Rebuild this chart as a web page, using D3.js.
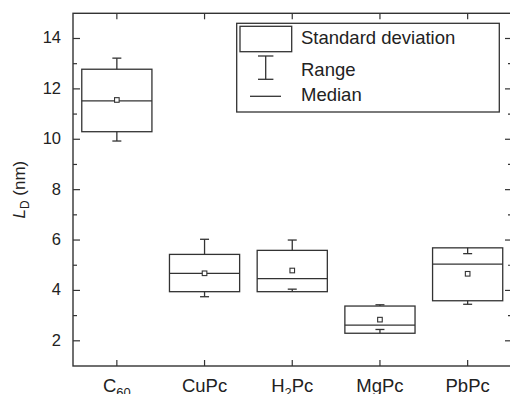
<!DOCTYPE html>
<html>
<head>
<meta charset="utf-8">
<script src="https://cdn.jsdelivr.net/npm/d3@7"></script>
<style>
  body { margin: 0; background: #fff; }
  svg { display: block; font-family: "Liberation Sans", Arial, sans-serif; }
</style>
</head>
<body>
<div id="chart"></div>
<script>
// valori (nm)
const categories = ["C60", "CuPc", "H2Pc", "MgPc", "PbPc"];
const sdHigh   = [12.78, 5.43, 5.59, 3.38, 5.69];
const sdLow    = [10.30, 3.95, 3.95, 2.30, 3.59];
const medians  = [11.52, 4.68, 4.47, 2.62, 5.04];
const means    = [11.56, 4.68, 4.79, 2.84, 4.66];
const rangeMax = [13.22, 6.03, 6.00, 3.43, 5.46];
const rangeMin = [9.93, 3.75, 4.05, 2.45, 3.45];
const yMajorTicks = [2, 4, 6, 8, 10, 12, 14];
const yMinorTicks = [3, 5, 7, 9, 11, 13];
const legendLabels = ["Standard deviation", "Range", "Median"];

const W = 510, H = 394;
const pLeft = 73, pRight = 511.5, pTop = 13.3, pBottom = 366;
const ink = "#333";

const svg = d3.select("#chart").append("svg")
    .attr("width", W)
    .attr("height", H);

const x = d3.scaleBand().domain(categories).range([pLeft, pRight]).padding(0);
const y = d3.scaleLinear().domain([1, 15]).range([pBottom, pTop]);

const rows = categories.map((c, i) => ({
    cat: c, hi: sdHigh[i], lo: sdLow[i], med: medians[i],
    mean: means[i], max: rangeMax[i], min: rangeMin[i]
}));

const boxW = x.bandwidth() * 0.8;
const capW = 9;
const cx = d => x(d.cat) + x.bandwidth() / 2;

// cornice
svg.append("rect")
    .attr("x", pLeft).attr("y", pTop)
    .attr("width", pRight - pLeft).attr("height", pBottom - pTop)
    .attr("fill", "none").attr("stroke", ink).attr("stroke-width", 1.4);

// tacche asse y (sinistra e destra, verso l'interno)
const yt = svg.append("g").attr("stroke", ink).attr("stroke-width", 1.2);
yMajorTicks.forEach(v => {
    yt.append("line").attr("x1", pLeft).attr("x2", pLeft + 7).attr("y1", y(v)).attr("y2", y(v));
    yt.append("line").attr("x1", pRight).attr("x2", pRight - 6.5).attr("y1", y(v)).attr("y2", y(v));
});
yMinorTicks.forEach(v => {
    yt.append("line").attr("x1", pLeft).attr("x2", pLeft + 4).attr("y1", y(v)).attr("y2", y(v));
    yt.append("line").attr("x1", pRight).attr("x2", pRight - 3.5).attr("y1", y(v)).attr("y2", y(v));
});

// tacche asse x (sotto e sopra)
categories.forEach(c => {
    const px = x(c) + x.bandwidth() / 2;
    yt.append("line").attr("x1", px).attr("x2", px).attr("y1", pBottom).attr("y2", pBottom - 6);
    yt.append("line").attr("x1", px).attr("x2", px).attr("y1", pTop).attr("y2", pTop + 6);
});

// etichette asse y
svg.append("g").selectAll("text")
    .data(yMajorTicks)
    .enter().append("text")
    .attr("x", 61)
    .attr("y", d => y(d) + 5)
    .attr("text-anchor", "end")
    .attr("font-size", "16.5px")
    .attr("fill", "#222")
    .text(d => d);

// etichette asse x con pedici
const xl = svg.append("g").selectAll("text")
    .data(categories)
    .enter().append("text")
    .attr("x", d => x(d) + x.bandwidth() / 2)
    .attr("y", 392)
    .attr("text-anchor", "middle")
    .attr("font-size", "18.5px")
    .attr("fill", "#222");
xl.each(function(d) {
    const t = d3.select(this);
    const parts = d.split(/(\d+)/).filter(p => p !== "");
    let shifted = false;
    parts.forEach(p => {
        const isNum = /^\d+$/.test(p);
        const ts = t.append("tspan").text(p);
        if (isNum) {
            ts.attr("font-size", "13px").attr("dy", 5);
            shifted = true;
        } else if (shifted) {
            ts.attr("dy", -5);
            shifted = false;
        }
    });
});

// titolo asse y
const yl = svg.append("text")
    .attr("transform", "translate(25," + ((pTop + pBottom) / 2) + ") rotate(-90)")
    .attr("text-anchor", "middle")
    .attr("font-size", "17px")
    .attr("fill", "#222");
yl.append("tspan").attr("font-style", "italic").text("L");
yl.append("tspan").attr("font-size", "12px").attr("dy", 4).text("D");
yl.append("tspan").attr("dy", -4).text(" (nm)");

// box
const g = svg.append("g").attr("stroke", ink).attr("fill", "none").attr("stroke-width", 1.3);

g.selectAll("rect.box")
    .data(rows)
    .enter().append("rect")
    .attr("class", "box")
    .attr("x", d => cx(d) - boxW / 2)
    .attr("y", d => y(d.hi))
    .attr("width", boxW)
    .attr("height", d => y(d.lo) - y(d.hi));

g.selectAll("line.med")
    .data(rows)
    .enter().append("line")
    .attr("class", "med")
    .attr("x1", d => cx(d) - boxW / 2)
    .attr("x2", d => cx(d) + boxW / 2)
    .attr("y1", d => y(d.med))
    .attr("y2", d => y(d.med));

// baffi: dal bordo del box al valore estremo
g.selectAll("line.wTop")
    .data(rows)
    .enter().append("line")
    .attr("class", "wTop")
    .attr("x1", cx).attr("x2", cx)
    .attr("y1", d => y(d.hi))
    .attr("y2", d => y(d.max));
g.selectAll("line.capTop")
    .data(rows)
    .enter().append("line")
    .attr("class", "capTop")
    .attr("x1", d => cx(d) - capW / 2)
    .attr("x2", d => cx(d) + capW / 2)
    .attr("y1", d => y(d.max))
    .attr("y2", d => y(d.max));
g.selectAll("line.wBot")
    .data(rows)
    .enter().append("line")
    .attr("class", "wBot")
    .attr("x1", cx).attr("x2", cx)
    .attr("y1", d => y(d.lo))
    .attr("y2", d => y(d.min));
g.selectAll("line.capBot")
    .data(rows)
    .enter().append("line")
    .attr("class", "capBot")
    .attr("x1", d => cx(d) - capW / 2)
    .attr("x2", d => cx(d) + capW / 2)
    .attr("y1", d => y(d.min))
    .attr("y2", d => y(d.min));

// media (quadratino)
g.selectAll("rect.mean")
    .data(rows)
    .enter().append("rect")
    .attr("class", "mean")
    .attr("x", d => cx(d) - 2.3)
    .attr("y", d => y(d.mean) - 2.3)
    .attr("width", 4.6)
    .attr("height", 4.6)
    .attr("fill", "#fff")
    .attr("stroke-width", 1.1);

// legenda
const lg = svg.append("g");
lg.append("rect")
    .attr("x", 236.7).attr("y", 23.3)
    .attr("width", 262.6).attr("height", 88.7)
    .attr("fill", "#fff").attr("stroke", ink).attr("stroke-width", 1.3);
lg.append("rect")
    .attr("x", 240).attr("y", 26.3)
    .attr("width", 51.7).attr("height", 25.4)
    .attr("fill", "none").attr("stroke", ink).attr("stroke-width", 1.3);
const ls = lg.append("g").attr("stroke", ink).attr("stroke-width", 1.3);
ls.append("line").attr("x1", 265.7).attr("x2", 265.7).attr("y1", 56).attr("y2", 79.3);
ls.append("line").attr("x1", 258).attr("x2", 273.4).attr("y1", 56).attr("y2", 56);
ls.append("line").attr("x1", 258).attr("x2", 273.4).attr("y1", 79.3).attr("y2", 79.3);
ls.append("line").attr("x1", 250).attr("x2", 281).attr("y1", 96.3).attr("y2", 96.3);

const legendY = [44, 76, 100.7];
lg.selectAll("text")
    .data(legendLabels)
    .enter().append("text")
    .attr("x", 301)
    .attr("y", (d, i) => legendY[i])
    .attr("font-size", "18.5px")
    .attr("fill", "#222")
    .text(d => d);
</script>
</body>
</html>
